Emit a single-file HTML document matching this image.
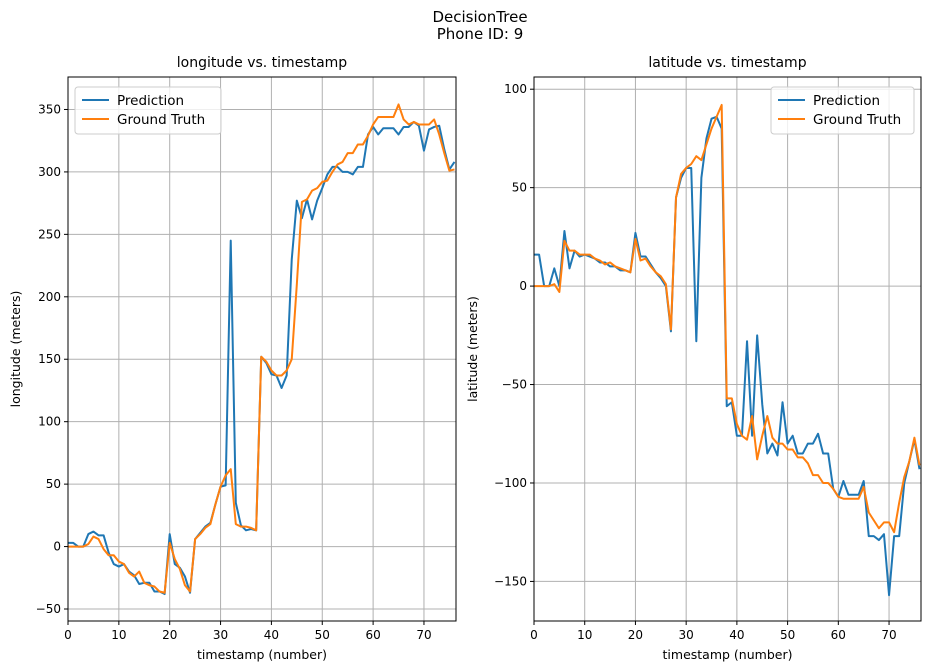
<!DOCTYPE html>
<html><head><meta charset="utf-8"><style>
body{margin:0;background:#fff;}
svg{display:block;font-family:"DejaVu Sans","Liberation Sans",sans-serif;}
</style></head><body>
<svg id="chart" width="934" height="672"></svg>
<script>
const timestamps = Array.from({length:77},(_,i)=>i);
const lonPred = [3,3,0,0,10,12,9,9,-5,-14,-16,-14,-20,-23,-30,-29,-29,-36,-36,-38,10,-14,-17,-24,-37,6,11,16,19,34,48,49,245,35,17,13,14,13,152,147,138,137,127,137,230,277,263,278,262,277,287,298,304,304,300,300,298,304,304,330,336,330,335,335,335,330,336,336,340,337,317,334,336,337,318,302,308];
const lonTruth = [0,0,0,0,2,8,6,-2,-7,-7,-12,-14,-21,-24,-20,-29,-31,-32,-36,-37,3,-10,-18,-31,-36,6,10,15,18,34,48,57,62,18,16,16,15,13,152,148,141,137,137,141,150,210,276,278,285,287,292,293,300,306,308,315,315,322,322,329,338,344,344,344,344,354,342,338,340,338,338,338,342,330,315,301,302];
const latPred = [16,16,0,0,9,0,28,9,18,15,16,15,14,12,12,10,10,8,8,7,27,15,15,11,7,4,0,-23,45,55,60,60,-28,55,75,85,86,80,-61,-59,-76,-76,-28,-76,-25,-60,-85,-80,-86,-59,-80,-76,-85,-85,-80,-80,-75,-85,-85,-103,-107,-99,-106,-106,-106,-99,-127,-127,-129,-126,-157,-127,-127,-100,-89,-78,-93];
const latTruth = [0,0,0,0,1,-3,23,18,18,16,16,16,14,13,11,12,10,9,8,7,24,13,14,10,7,5,1,-22,45,57,60,62,66,64,72,80,86,92,-57,-57,-70,-76,-78,-66,-88,-76,-66,-77,-80,-80,-83,-83,-87,-87,-90,-96,-96,-100,-100,-103,-107,-108,-108,-108,-108,-102,-115,-119,-123,-120,-120,-125,-110,-97,-89,-77,-91];
const xTicks = [0,10,20,30,40,50,60,70];
const lonTicks = [-50,0,50,100,150,200,250,300,350];
const latTicks = [-150,-100,-50,0,50,100];

const NS='http://www.w3.org/2000/svg';
const svg=document.getElementById('chart');
function mk(tag,attrs,parent){const e=document.createElementNS(NS,tag);for(const k in attrs)e.setAttribute(k,attrs[k]);(parent||svg).appendChild(e);return e;}
function txt(s,attrs,parent){const e=mk('text',attrs,parent);e.textContent=s;return e;}
function fmt(t){return t<0?'\u2212'+Math.abs(t):String(t);}

const ft=txt('DecisionTree',{x:480,y:22,'text-anchor':'middle','font-size':15});


const fs=txt('Phone ID: 9',{x:480,y:39,'text-anchor':'middle','font-size':15});



function panel(cfg){
  const g=mk('g',{});
  
  
  const {L,R,T,B,xmin,xmax,ymin,ymax}=cfg;
  const sx=v=>L+(v-xmin)/(xmax-xmin)*(R-L);
  const sy=v=>B-(v-ymin)/(ymax-ymin)*(B-T);
  xTicks.forEach(t=>{
    const x=sx(t);
    const gl=mk('line',{x1:x,x2:x,y1:T,y2:B,stroke:'#b0b0b0','stroke-width':1},g);
    
    
    mk('line',{x1:x,x2:x,y1:B,y2:B+4,stroke:'#000'},g);
    const l=txt(fmt(t),{x:x,y:B+18,'text-anchor':'middle','font-size':12},g);
    
    
  });
  cfg.yTicks.forEach(t=>{
    const y=sy(t);
    const gl=mk('line',{x1:L,x2:R,y1:y,y2:y,stroke:'#b0b0b0','stroke-width':1},g);
    
    
    mk('line',{x1:L-4,x2:L,y1:y,y2:y,stroke:'#000'},g);
    const l=txt(fmt(t),{x:L-7,y:y+4,'text-anchor':'end','font-size':12},g);
    
    
  });
  const clipId='c'+cfg.name;
  const cp=mk('clipPath',{id:clipId},g);mk('rect',{x:L,y:T,width:R-L,height:B-T},cp);
  [[cfg.pred,'#1f77b4','prediction-line'],[cfg.truth,'#ff7f0e','ground-truth-line']].forEach(([arr,c,n])=>{
    const d=arr.map((v,i)=>(i?'L':'M')+sx(timestamps[i]).toFixed(2)+','+sy(v).toFixed(2)).join('');
    const p=mk('path',{d:d,fill:'none',stroke:c,'stroke-width':2,'clip-path':'url(#'+clipId+')','stroke-linejoin':'round'},g);
    
    
  });
  mk('rect',{x:L,y:T,width:R-L,height:B-T,fill:'none',stroke:'#000','stroke-width':1},g);
  const tt=txt(cfg.title,{x:(L+R)/2,y:T-10,'text-anchor':'middle','font-size':14},g);
  
  
  const xl=txt('timestamp (number)',{x:(L+R)/2,y:B+38,'text-anchor':'middle','font-size':12.5},g);
  
  
  const yx=cfg.ylabX, yy=(T+B)/2;
  const yl=txt(cfg.ylabel,{x:yx,y:yy,'text-anchor':'middle','font-size':12.5,transform:`rotate(-90 ${yx} ${yy})`},g);
  
  
  const lg=mk('g',{},g);
  
  
  const lx=cfg.legX;
  mk('rect',{x:lx,y:T+10,width:cfg.legW,height:47,rx:3,fill:'#fff','fill-opacity':0.8,stroke:'#ccc'},lg);
  [['Prediction','#1f77b4'],['Ground Truth','#ff7f0e']].forEach(([s,c],i)=>{
    const y=T+23+i*19;
    const e=mk('g',{},lg);
    
    
    mk('line',{x1:lx+7,x2:lx+34,y1:y,y2:y,stroke:c,'stroke-width':2},e);
    txt(s,{x:lx+42,y:y+5,'font-size':13.5},e);
  });
}
panel({name:'longitude-panel',L:68,R:456,T:77,B:621,xmin:0,xmax:76.3,ymin:-59.6,ymax:376,yTicks:lonTicks,pred:lonPred,truth:lonTruth,title:'longitude vs. timestamp',ylabel:'longitude (meters)',ylabX:20,legX:75,legW:146});
panel({name:'latitude-panel',L:534,R:921,T:77,B:621,xmin:0,xmax:76.3,ymin:-170.1,ymax:106.2,yTicks:latTicks,pred:latPred,truth:latTruth,title:'latitude vs. timestamp',ylabel:'latitude (meters)',ylabX:477,legX:771,legW:143});
</script>
</body></html>
